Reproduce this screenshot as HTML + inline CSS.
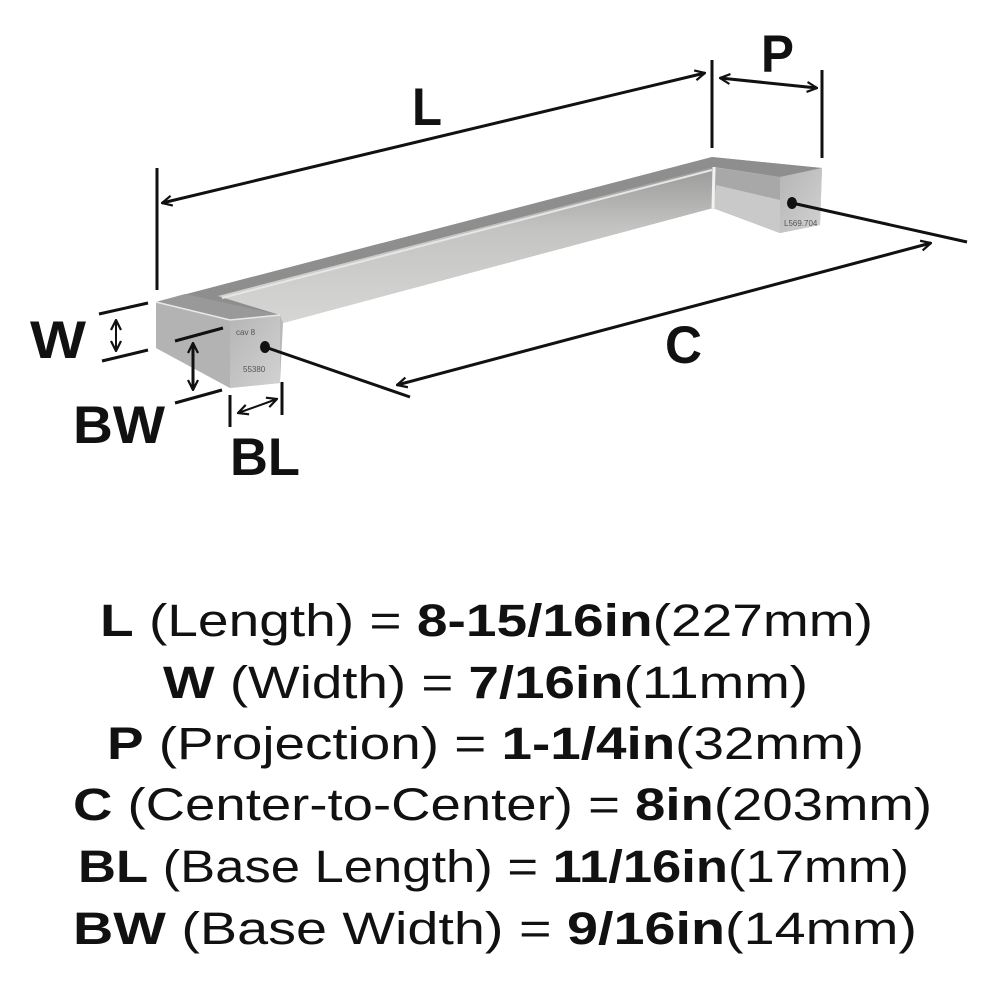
<!DOCTYPE html>
<html><head><meta charset="utf-8"><style>
html,body{margin:0;padding:0;background:#fff;}
svg{display:block;}
</style></head><body>
<svg width="1000" height="1000" viewBox="0 0 1000 1000" xmlns="http://www.w3.org/2000/svg">
<defs>
<linearGradient id="bar" x1="0" y1="0" x2="0" y2="1">
<stop offset="0" stop-color="#9a9a9a"/><stop offset="0.4" stop-color="#c4c4c2"/><stop offset="1" stop-color="#d6d6d4"/>
</linearGradient>
<linearGradient id="face" x1="0" y1="0" x2="1" y2="1">
<stop offset="0" stop-color="#b5b5b5"/><stop offset="1" stop-color="#d2d2d2"/>
</linearGradient>
<marker id="ah" viewBox="0 0 12 12" refX="11" refY="6" markerWidth="12" markerHeight="12" markerUnits="userSpaceOnUse" orient="auto-start-reverse">
<path d="M1,1 L11,6 L1,11" fill="none" stroke="#111" stroke-width="2.2"/>
</marker>
</defs>

<!-- handle -->
<polygon points="156,302 712,157 822,168 820,225 780,233 713,208 283,323 280,383 230,388 156,348" fill="#b9b9b7"/>
<!-- top surface of bar -->
<polygon points="156,302 712,157 822,168 780,177 714,167 218,296 280,315 230,320" fill="#8e8e8e"/>
<!-- bar front face -->
<polygon points="218,296 714,167 713,208 283,323 280,315" fill="url(#bar)"/>
<line x1="222" y1="298" x2="712" y2="170" stroke="#e6e6e6" stroke-width="2"/>
<!-- right inner face -->
<polygon points="716,168 780,177 780,233 713,208" fill="#a8a8a8"/>
<polygon points="716,185 780,200 780,233 713,208" fill="#c9c9c9"/>
<line x1="714" y1="167" x2="713" y2="208" stroke="#f2f2f2" stroke-width="3"/>
<!-- right front face -->
<polygon points="780,177 822,168 820,225 780,233" fill="url(#face)"/>
<rect x="783" y="180" width="34" height="50" fill="none" stroke="#777" stroke-width="1" transform="skewY(-12) translate(0,165)" opacity="0"/>
<text x="784" y="226" font-family="Liberation Sans, sans-serif" font-size="8" fill="#555">L569.704</text>
<!-- left block -->
<polygon points="156,302 230,320 230,388 156,348" fill="#b3b3b3"/>
<polygon points="230,320 280,315 280,383 230,388" fill="url(#face)"/>
<polygon points="156,302 185,294 280,315 230,320" fill="#999"/>
<line x1="156" y1="302" x2="230" y2="320" stroke="#e8e8e8" stroke-width="1.5"/>
<line x1="230" y1="320" x2="280" y2="315" stroke="#e8e8e8" stroke-width="1.5"/>
<text x="236" y="335" font-family="Liberation Sans, sans-serif" font-size="8" fill="#555">cav 8</text>
<text x="243" y="372" font-family="Liberation Sans, sans-serif" font-size="8" fill="#555">55380</text>
<ellipse cx="265" cy="347" rx="5" ry="6" fill="#111"/>
<ellipse cx="792" cy="203" rx="5" ry="6" fill="#111"/>

<!-- dimension lines -->
<g stroke="#111" stroke-width="3" fill="none">
<line x1="157" y1="168" x2="157" y2="290"/>
<line x1="712" y1="60" x2="712" y2="148"/>
<line x1="822" y1="70" x2="822" y2="158"/>
<line x1="162" y1="203" x2="705" y2="73" marker-start="url(#ah)" marker-end="url(#ah)"/>
<line x1="720" y1="78" x2="817" y2="88" marker-start="url(#ah)" marker-end="url(#ah)"/>
<line x1="397" y1="385" x2="931" y2="243" marker-start="url(#ah)" marker-end="url(#ah)"/>
<line x1="265" y1="347" x2="410" y2="397"/>
<line x1="792" y1="203" x2="967" y2="242"/>
<line x1="99" y1="314" x2="148" y2="303"/>
<line x1="102" y1="361" x2="148" y2="350"/>
<line x1="116" y1="320" x2="116" y2="351" stroke-width="2" marker-start="url(#ah)" marker-end="url(#ah)"/>
<line x1="175" y1="341" x2="223" y2="328"/>
<line x1="175" y1="403" x2="222" y2="390"/>
<line x1="193" y1="343" x2="193" y2="390" marker-start="url(#ah)" marker-end="url(#ah)"/>
<line x1="230" y1="395" x2="230" y2="427"/>
<line x1="282" y1="382" x2="282" y2="415"/>
<line x1="238" y1="413" x2="277" y2="399" stroke-width="2" marker-start="url(#ah)" marker-end="url(#ah)"/>
</g>

<g font-family="Liberation Sans, sans-serif" font-weight="bold" fill="#111" font-size="53">
<text x="412" y="125" textLength="30" lengthAdjust="spacingAndGlyphs">L</text>
<text x="761" y="72" textLength="33" lengthAdjust="spacingAndGlyphs">P</text>
<text x="665" y="363" textLength="37" lengthAdjust="spacingAndGlyphs">C</text>
<text x="30" y="358" textLength="56" lengthAdjust="spacingAndGlyphs">W</text>
<text x="73" y="443" textLength="92" lengthAdjust="spacingAndGlyphs">BW</text>
<text x="230" y="475" textLength="70" lengthAdjust="spacingAndGlyphs">BL</text>
</g>

<g font-family="Liberation Sans, sans-serif" fill="#111" font-size="45">
<text x="100" y="636" textLength="773" lengthAdjust="spacingAndGlyphs"><tspan font-weight="bold">L</tspan> (Length) = <tspan font-weight="bold">8-15/16in</tspan>(227mm)</text>
<text x="163" y="698" textLength="645" lengthAdjust="spacingAndGlyphs"><tspan font-weight="bold">W</tspan> (Width) = <tspan font-weight="bold">7/16in</tspan>(11mm)</text>
<text x="107" y="759" textLength="757" lengthAdjust="spacingAndGlyphs"><tspan font-weight="bold">P</tspan> (Projection) = <tspan font-weight="bold">1-1/4in</tspan>(32mm)</text>
<text x="73" y="820" textLength="859" lengthAdjust="spacingAndGlyphs"><tspan font-weight="bold">C</tspan> (Center-to-Center) = <tspan font-weight="bold">8in</tspan>(203mm)</text>
<text x="78" y="882" textLength="831" lengthAdjust="spacingAndGlyphs"><tspan font-weight="bold">BL</tspan> (Base Length) = <tspan font-weight="bold">11/16in</tspan>(17mm)</text>
<text x="73" y="944" textLength="844" lengthAdjust="spacingAndGlyphs"><tspan font-weight="bold">BW</tspan> (Base Width) = <tspan font-weight="bold">9/16in</tspan>(14mm)</text>
</g>
</svg>
</body></html>
